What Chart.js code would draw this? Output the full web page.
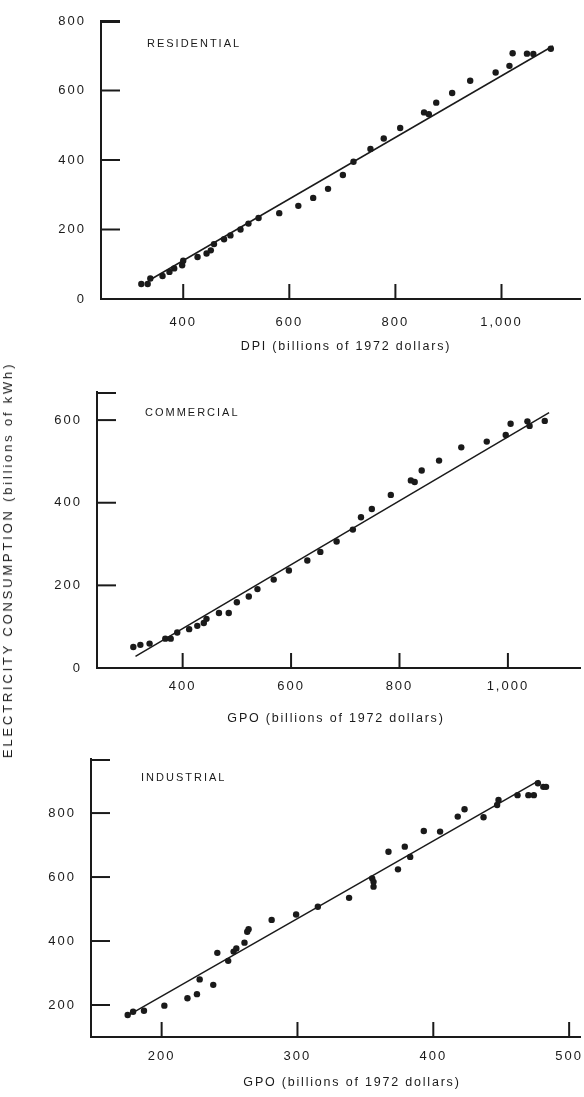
<!DOCTYPE html>
<html><head><meta charset="utf-8">
<script src="https://cdn.jsdelivr.net/npm/chart.js@4.4.1/dist/chart.umd.min.js"></script>
<style>
html,body{margin:0;padding:0;background:#fff;}
#wrap{position:relative;width:584px;height:1097px;overflow:hidden;background:#fff;}
canvas{position:absolute;left:0;}
.lbl{position:absolute;font-family:"Liberation Sans",Arial,sans-serif;color:#1a1a1a;white-space:nowrap;line-height:14px;}
.panel{font-size:11px;letter-spacing:2px;}
.xt{font-size:12.5px;letter-spacing:1.8px;transform:translate(-50%,-50%);}
#ylab{font-size:13px;letter-spacing:2.8px;transform:translate(-50%,-50%) rotate(-90deg);}
</style></head>
<body><div id="wrap">
<canvas id="c1" width="584" height="362" style="top:0px"></canvas>
<canvas id="c2" width="584" height="368" style="top:362px"></canvas>
<canvas id="c3" width="584" height="367" style="top:730px"></canvas>
<div class="lbl panel" style="left:147px;top:36px">RESIDENTIAL</div>
<div class="lbl panel" style="left:145px;top:405px">COMMERCIAL</div>
<div class="lbl panel" style="left:141px;top:770px">INDUSTRIAL</div>
<div class="lbl xt" style="left:346px;top:346px">DPI (billions of 1972 dollars)</div>
<div class="lbl xt" style="left:336px;top:718px">GPO (billions of 1972 dollars)</div>
<div class="lbl xt" style="left:352px;top:1082px">GPO (billions of 1972 dollars)</div>
<div class="lbl" id="ylab" style="left:8px;top:560px">ELECTRICITY CONSUMPTION (billions of kWh)</div>
</div>
<script>
// ---- Residential: DPI vs consumption ----
const resDPI = [321,333,338,361,374,383,398,400,427,444,452,458,477,489,508,523,542,581,617,645,673,701,721,753,778,809,854,863,877,907,941,989,1015,1021,1048,1060,1093];
const resKWh = [43,43,59,66,78,88,97,110,121,131,140,158,172,183,200,217,233,247,268,291,317,357,395,432,462,492,537,532,565,593,628,652,671,707,706,705,720];
const resFitX = [336,1097];
const resFitY = [54,728];
const resXTicks = [400,600,800,1000];
const resYTicks = [0,200,400,600,800];

// ---- Commercial: GPO vs consumption ----
const comGPO = [309,322,339,368,378,390,412,427,439,444,467,485,500,522,538,568,596,630,654,684,714,729,749,784,821,828,841,873,914,961,996,1005,1036,1040,1068];
const comKWh = [51,56,59,71,71,86,94,102,109,119,133,133,159,173,191,214,236,260,281,306,335,365,385,419,454,450,478,502,534,548,564,591,597,586,598];
const comFitX = [313,1076];
const comFitY = [28,618];
const comXTicks = [400,600,800,1000];
const comYTicks = [0,200,400,600];

// ---- Industrial: GPO vs consumption ----
const indGPO = [175,179,187,202,219,226,228,238,241,249,253,255,261,263,264,281,299,315,338,355,356,356,367,374,379,383,393,405,418,423,437,447,448,462,470,474,477,481,483];
const indKWh = [169,179,182,198,221,234,280,263,363,338,367,377,395,429,437,466,483,507,535,596,570,585,679,624,695,663,744,742,789,812,787,825,841,856,856,856,893,882,882];
const indFitX = [175,478];
const indFitY = [167,902];
const indXTicks = [200,300,400,500];
const indYTicks = [200,400,600,800];

const INK = '#1a1a1a';
const FONT = '"Liberation Sans", Arial, sans-serif';

const inward = {
  id: 'inward',
  beforeDraw(chart){ chart.ctx.letterSpacing = '2px'; },
  afterDraw(chart){
    const ctx = chart.ctx, xs = chart.scales.x, ys = chart.scales.y, ca = chart.chartArea;
    ctx.save();
    ctx.strokeStyle = INK; ctx.lineWidth = 2;
    const seg = (a,b,c,d)=>{ctx.beginPath();ctx.moveTo(a,b);ctx.lineTo(c,d);ctx.stroke();};
    ys.ticks.forEach(t=>{const p = ys.getPixelForValue(t.value); seg(ca.left, p, ca.left+19, p);});
    seg(ca.left, ca.top+1, ca.left+19, ca.top+1);
    xs.ticks.forEach(t=>{const p = xs.getPixelForValue(t.value); seg(p, ca.bottom, p, ca.bottom-15);});
    ctx.restore();
  }
};

function build(id, p){
  const H = document.getElementById(id).height;
  const pts = p.xs.map((x,i)=>({x, y:p.ys[i]}));
  const fit = p.fx.map((x,i)=>({x, y:p.fy[i]}));
  return new Chart(document.getElementById(id), {
    type: 'scatter',
    data: { datasets: [
      { data: pts, backgroundColor: INK, borderColor: INK, pointRadius: 3.2, pointBorderWidth: 0 },
      { data: fit, showLine: true, borderColor: INK, borderWidth: 1.5, pointRadius: 0, fill: false }
    ]},
    options: {
      responsive: false, animation: false, devicePixelRatio: 1,
      layout: { padding: { top: p.t, right: 584 - p.R, left: 0, bottom: 0 } },
      plugins: { legend: { display: false }, tooltip: { enabled: false } },
      scales: {
        x: {
          type: 'linear', min: p.xmin, max: p.xmax,
          grid: { drawOnChartArea: false, drawTicks: false },
          border: { display: true, color: INK, width: 2 },
          afterBuildTicks: s => { s.ticks = p.xt.map(v=>({value:v})); },
          afterFit: s => { s.height = H - p.b; s.paddingLeft = 0; s.paddingRight = 0; },
          ticks: { color: INK, font: { family: FONT, size: 13 }, padding: p.xpad, maxRotation: 0,
                   callback: v => v.toLocaleString('en-US') }
        },
        y: {
          type: 'linear', min: p.ymin, max: p.ymax,
          grid: { drawOnChartArea: false, drawTicks: false },
          border: { display: true, color: INK, width: 2 },
          afterBuildTicks: s => { s.ticks = p.yt.map(v=>({value:v})); },
          afterFit: s => { s.width = p.L; s.paddingTop = 0; s.paddingBottom = 0; },
          ticks: { color: INK, font: { family: FONT, size: 13 }, padding: 15,
                   callback: v => v.toLocaleString('en-US') }
        }
      }
    },
    plugins: [inward]
  });
}

build('c1', { xs: resDPI, ys: resKWh, fx: resFitX, fy: resFitY, xt: resXTicks, yt: resYTicks,
  xmin: 245, xmax: 1148, ymin: 0, ymax: 800, L: 101, R: 584, t: 21, b: 299, xpad: 16 });
build('c2', { xs: comGPO, ys: comKWh, fx: comFitX, fy: comFitY, xt: comXTicks, yt: comYTicks,
  xmin: 242, xmax: 1133, ymin: 0, ymax: 668, L: 97, R: 584, t: 30, b: 306, xpad: 11 });
build('c3', { xs: indGPO, ys: indKWh, fx: indFitX, fy: indFitY, xt: indXTicks, yt: indYTicks,
  xmin: 148, xmax: 508, ymin: 100, ymax: 969, L: 91, R: 580, t: 29, b: 307, xpad: 12 });
</script>
</body></html>
